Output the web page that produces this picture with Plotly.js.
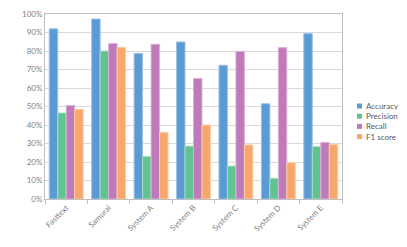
<!DOCTYPE html>
<html><head><meta charset="utf-8">
<script src="https://cdn.plot.ly/plotly-3.0.1.min.js"></script>
<style>html,body{margin:0;padding:0;background:#fff;}#chart{width:407px;height:247px;}</style>
</head><body><div id="chart"></div>
<script>
const categories = ["Fasttext","Samurai","System A","System B","System C","System D","System E"];
const accuracy  = [0.92, 0.973, 0.787, 0.849, 0.723, 0.515, 0.894];
const precision = [0.465, 0.80, 0.23, 0.286, 0.178, 0.112, 0.283];
const recall    = [0.505, 0.84, 0.836, 0.652, 0.798, 0.818, 0.306];
const f1score   = [0.485, 0.82, 0.36, 0.40, 0.292, 0.196, 0.294];
const seriesNames = ["Accuracy","Precision","Recall","F1 score"];
const colors = ["#5B9BD5","#62C392","#BF7BB9","#F8A76C"];
const lines = ["#9DC3E6","#A6DFC0","#DDB0D8","#FBCDA6"];
const vals = [accuracy, precision, recall, f1score];
const data = vals.map((v,i)=>({type:'bar', x:categories, y:v, name:seriesNames[i],
  marker:{color:colors[i], line:{color:lines[i], width:1}}, hoverinfo:'none', showlegend:false}));
const tf = {family:'Lato, sans-serif', size:8, color:'#7f7f7f'};
// custom compact legend (matches reference spacing)
const W = 297, H = 185;
const shapes = [], annotations = [];
seriesNames.forEach((n,i)=>{
  const yc = (199 - (106 + i*10.2)) / H;
  shapes.push({type:'rect', xref:'paper', yref:'paper',
    x0:(357-45)/W, x1:(362-45)/W, y0:yc-2.5/H, y1:yc+2.5/H,
    fillcolor:colors[i], line:{width:0}});
  annotations.push({xref:'paper', yref:'paper', x:(364-45)/W, y:yc, xanchor:'left', yanchor:'middle',
    text:n, showarrow:false, font:{family:'Lato, sans-serif', size:8, color:'#595959'}});
});
Plotly.newPlot('chart', data, {
  width:407, height:247,
  margin:{l:45, r:65, t:14, b:48, pad:0},
  paper_bgcolor:'#fff', plot_bgcolor:'#fff',
  barmode:'group', bargap:0.2, bargroupgap:0,
  showlegend:false, shapes:shapes, annotations:annotations,
  xaxis:{tickangle:-45, tickfont:tf, showline:true, linecolor:'#bfbfbf', mirror:true, ticks:'outside', tickson:'boundaries', ticklen:4, tickcolor:'#bfbfbf', showgrid:false, fixedrange:true},
  yaxis:{range:[0,1], dtick:0.1, tickformat:'.0%', tickfont:tf, showline:true, linecolor:'#bfbfbf', mirror:true, gridcolor:'#d9d9d9', gridwidth:1, ticks:'', zeroline:false, fixedrange:true}
}, {displayModeBar:false, staticPlot:true});
</script></body></html>
